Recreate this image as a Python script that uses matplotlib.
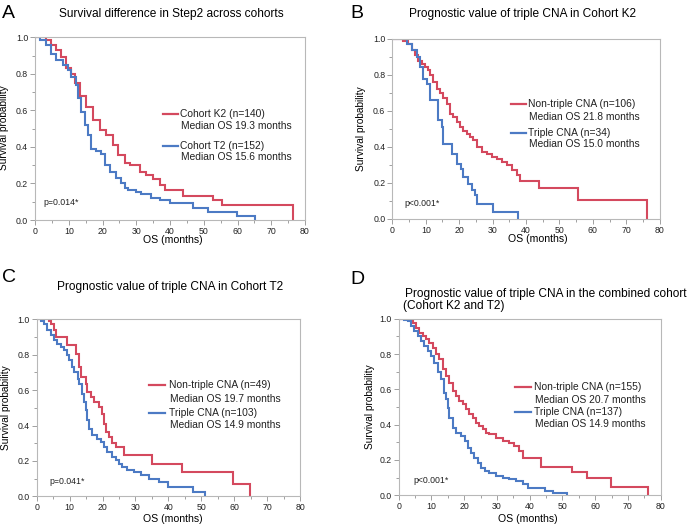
import matplotlib
matplotlib.use('Agg')
import matplotlib.pyplot as plt
from matplotlib.ticker import MultipleLocator, FormatStrFormatter

plt.rcParams['font.family'] = ['Liberation Sans', 'DejaVu Sans']

RED = '#D4495E'
BLUE = '#4C7AC4'

# Kaplan-Meier curves: (time in months, survival after the step)
# panel A
a_k2_t = [0, 3.4, 4.8, 6.3, 7.8, 9.3, 10.8, 11.8, 13.2, 15.2, 17.2, 19.2, 21.1, 23.1, 24.6, 26.6,
          28.0, 31.0, 33.0, 35.0, 36.9, 38.5, 43.9, 52.8, 55.3, 76.5]
a_k2_s = [1.0, 0.985, 0.96, 0.93, 0.89, 0.83, 0.80, 0.75, 0.68, 0.62, 0.55, 0.49, 0.465, 0.41, 0.356, 0.31,
          0.30, 0.265, 0.246, 0.225, 0.19, 0.164, 0.131, 0.109, 0.08, 0.0]
a_t2_t = [0, 1.4, 3.4, 4.8, 6.3, 8.3, 9.8, 10.8, 12.0, 12.7, 13.7, 14.7, 15.7, 16.7, 18.2, 19.7, 20.6,
          22.1, 24.1, 25.6, 26.6, 27.6, 30.0, 31.5, 34.5, 37.0, 40.0, 46.9, 51.4, 59.8, 65.2]
a_t2_s = [1.0, 0.985, 0.96, 0.91, 0.876, 0.85, 0.82, 0.785, 0.74, 0.666, 0.593, 0.52, 0.465, 0.39, 0.38, 0.363, 0.30,
          0.265, 0.228, 0.20, 0.173, 0.165, 0.155, 0.14, 0.118, 0.11, 0.091, 0.064, 0.046, 0.022, 0.0]

# panel B
b_non_t = [0, 3.3, 4.8, 5.8, 6.8, 7.8, 8.8, 9.8, 10.8, 11.3, 12.3, 13.3, 14.3, 15.3, 16.3, 17.3, 18.3,
           19.3, 20.3, 21.2, 22.2, 23.2, 24.2, 25.2, 26.7, 28.2, 29.7, 31.2, 32.7, 34.2, 35.7, 37.2,
           38.2, 43.8, 55.6, 76.2]
b_non_s = [1.0, 0.99, 0.974, 0.937, 0.909, 0.88, 0.863, 0.844, 0.826, 0.80, 0.76, 0.72, 0.70, 0.67, 0.64, 0.585, 0.567,
           0.54, 0.51, 0.49, 0.474, 0.455, 0.437, 0.40, 0.372, 0.363, 0.344, 0.335, 0.317, 0.298, 0.27, 0.243,
           0.21, 0.175, 0.105, 0.0]
b_tri_t = [0, 4.3, 5.8, 7.3, 8.3, 9.3, 10.3, 11.3, 13.8, 14.8, 15.3, 17.8, 19.3, 20.7, 21.2, 22.7,
           23.7, 24.7, 25.2, 30.2, 37.7]
b_tri_s = [1.0, 0.97, 0.937, 0.90, 0.844, 0.78, 0.75, 0.66, 0.548, 0.511, 0.419, 0.363, 0.307, 0.28, 0.233, 0.196,
           0.159, 0.131, 0.085, 0.039, 0.0]

# panel C
c_non_t = [0, 3.7, 4.3, 5.3, 5.8, 9.3, 11.8, 12.9, 13.4, 14.9, 15.4, 16.4, 17.4, 18.9, 19.9, 20.5,
           21.0, 22.0, 23.0, 24.0, 26.5, 35.0, 44.1, 59.5, 64.8]
c_non_s = [1.0, 0.99, 0.975, 0.938, 0.90, 0.853, 0.806, 0.73, 0.674, 0.637, 0.59, 0.56, 0.533, 0.505, 0.467, 0.41,
           0.363, 0.335, 0.30, 0.28, 0.232, 0.185, 0.139, 0.072, 0.0]
c_tri_t = [0, 1.2, 2.2, 3.2, 4.3, 5.3, 6.3, 7.3, 8.3, 9.3, 9.8, 10.8, 11.3, 12.4, 12.9, 13.9, 14.4, 14.9,
           15.4, 15.9, 16.9, 18.4, 19.4, 20.5, 21.5, 23.0, 24.0, 25.0, 26.0, 27.5, 29.6, 31.6, 34.1, 37.2,
           40.0, 47.6, 51.2]
c_tri_s = [1.0, 0.99, 0.975, 0.938, 0.91, 0.881, 0.862, 0.844, 0.825, 0.797, 0.768, 0.731, 0.702, 0.665, 0.637, 0.58,
           0.533, 0.486, 0.429, 0.382, 0.345, 0.326, 0.307, 0.279, 0.25, 0.222, 0.203, 0.185, 0.166, 0.147, 0.137,
           0.119, 0.10, 0.081, 0.051, 0.025, 0.0]

# panel D
d_non_t = [0, 3.3, 4.3, 5.3, 6.3, 7.3, 8.3, 9.4, 10.4, 11.4, 12.4, 13.4, 14.5, 15.5, 16.5, 17.5, 18.5, 19.5,
           20.6, 21.6, 22.6, 23.6, 24.6, 25.6, 26.7, 27.7, 29.7, 31.8, 33.8, 35.3, 36.8, 38.1, 43.3, 52.8,
           57.5, 64.7, 76.2]
d_non_s = [1.0, 0.99, 0.977, 0.95, 0.92, 0.90, 0.883, 0.864, 0.836, 0.80, 0.77, 0.713, 0.675, 0.638, 0.59, 0.562,
           0.534, 0.515, 0.487, 0.458, 0.44, 0.411, 0.392, 0.374, 0.355, 0.345, 0.326, 0.308, 0.298, 0.279, 0.251,
           0.21, 0.162, 0.134, 0.10, 0.045, 0.0]
d_tri_t = [0, 1.7, 2.7, 3.8, 4.8, 5.8, 6.8, 7.8, 8.9, 9.9, 10.9, 11.9, 12.9, 13.9, 14.5, 15.0, 15.5, 16.5,
           17.5, 19.0, 20.1, 21.1, 22.1, 23.1, 24.1, 25.1, 26.2, 27.7, 29.7, 31.8, 33.8, 35.8, 37.9, 39.5,
           44.7, 47.2, 51.3]
d_tri_s = [1.0, 0.995, 0.987, 0.96, 0.93, 0.90, 0.874, 0.845, 0.817, 0.789, 0.75, 0.70, 0.657, 0.58, 0.543, 0.496,
           0.44, 0.383, 0.355, 0.336, 0.308, 0.27, 0.242, 0.213, 0.185, 0.157, 0.138, 0.128, 0.109, 0.10, 0.09,
           0.081, 0.062, 0.043, 0.022, 0.012, 0.0]

fig = plt.figure(figsize=(6.96, 5.25), dpi=100)
W, H = 696, 525


def px_axes(x0, x1, y0, y1):
    # axes box given in pixel coordinates of the figure (top-left origin)
    return fig.add_axes([x0 / W, 1 - y1 / H, (x1 - x0) / W, (y1 - y0) / H])


def ftext(x, y, s, **kw):
    fig.text(x / W, 1 - y / H, s, **kw)


def panel(ax, curves, keys, key_x, key_y, ptext):
    for (t, s), color in zip(curves, [RED, BLUE]):
        ax.step(t, s, where='post', color=color, lw=1.5, solid_joinstyle='miter')
    ax.set_xlim(0, 80)
    ax.set_ylim(0, 1.0)
    ax.xaxis.set_major_locator(MultipleLocator(10))
    ax.xaxis.set_minor_locator(MultipleLocator(5))
    ax.yaxis.set_major_locator(MultipleLocator(0.2))
    ax.yaxis.set_minor_locator(MultipleLocator(0.1))
    ax.yaxis.set_major_formatter(FormatStrFormatter('%.1f'))
    ax.tick_params(which='both', direction='out', color='#a0a0a0', labelsize=6.3,
                   labelcolor='#222222', width=0.7, pad=1.5)
    ax.tick_params(which='major', length=3.5)
    ax.tick_params(which='minor', length=2)
    for sp in ax.spines.values():
        sp.set_color('#b8b8b8')
        sp.set_linewidth(0.8)
    # legend keys
    for (l1, l2), color, (ya, yb) in zip(keys, [RED, BLUE], key_y):
        ax.plot([key_x[0], key_x[1]], [ya, ya], color=color, lw=1.6,
                transform=ax.transAxes, clip_on=False)
        ax.text(key_x[2], ya, l1, transform=ax.transAxes, va='center', fontsize=7.4, color='#222222')
        ax.text(key_x[2] + 0.004, yb, l2, transform=ax.transAxes, va='center', fontsize=7.4, color='#222222')
    ax.text(ptext[0], ptext[1], ptext[2], transform=ax.transAxes, va='center', fontsize=6.3, color='#222222')


TS = 8.6  # title size

# A
axA = px_axes(35, 305, 37.3, 220)
panel(axA, [(a_k2_t, a_k2_s), (a_t2_t, a_t2_s)],
      [('Cohort K2 (n=140)', 'Median OS 19.3 months'), ('Cohort T2 (n=152)', 'Median OS 15.6 months')],
      (0.474, 0.530, 0.537), [(0.58, 0.515), (0.405, 0.345)], (0.031, 0.097, 'p=0.014*'))
ftext(2, 13, 'A', fontsize=14, va='center')
ftext(171, 14, 'Survival difference in Step2 across cohorts', fontsize=TS, ha='center', va='center')
ftext(173, 240, 'OS (months)', fontsize=7.6, ha='center', va='center')
ftext(4, 128, 'Survival probability', fontsize=7.3, ha='center', va='center', rotation=90)

# B
axB = px_axes(392.3, 659.7, 39, 219)
panel(axB, [(b_non_t, b_non_s), (b_tri_t, b_tri_s)],
      [('Non-triple CNA (n=106)', 'Median OS 21.8 months'), ('Triple CNA (n=34)', 'Median OS 15.0 months')],
      (0.443, 0.501, 0.507), [(0.637, 0.565), (0.48, 0.415)], (0.046, 0.087, 'p<0.001*'))
ftext(350, 13, 'B', fontsize=14, va='center')
ftext(523, 14, 'Prognostic value of triple CNA in Cohort K2', fontsize=TS, ha='center', va='center')
ftext(538, 239, 'OS (months)', fontsize=7.6, ha='center', va='center')
ftext(361, 129, 'Survival probability', fontsize=7.3, ha='center', va='center', rotation=90)

# C
axC = px_axes(36.7, 300, 319.3, 496.3)
panel(axC, [(c_non_t, c_non_s), (c_tri_t, c_tri_s)],
      [('Non-triple CNA (n=49)', 'Median OS 19.7 months'), ('Triple CNA (n=103)', 'Median OS 14.9 months')],
      (0.428, 0.487, 0.504), [(0.627, 0.551), (0.472, 0.401)], (0.048, 0.081, 'p=0.041*'))
ftext(2, 277, 'C', fontsize=14, va='center')
ftext(170, 287, 'Prognostic value of triple CNA in Cohort T2', fontsize=TS, ha='center', va='center')
ftext(173, 519, 'OS (months)', fontsize=7.6, ha='center', va='center')
ftext(6, 408, 'Survival probability', fontsize=7.3, ha='center', va='center', rotation=90)

# D
axD = px_axes(398.7, 660.7, 318.7, 495.3)
panel(axD, [(d_non_t, d_non_s), (d_tri_t, d_tri_s)],
      [('Non-triple CNA (n=155)', 'Median OS 20.7 months'), ('Triple CNA (n=137)', 'Median OS 14.9 months')],
      (0.445, 0.506, 0.515), [(0.613, 0.542), (0.472, 0.404)], (0.055, 0.085, 'p<0.001*'))
ftext(350, 279, 'D', fontsize=14, va='center')
ftext(405, 296.5, 'Prognostic value of triple CNA in the combined cohort', fontsize=TS, ha='left', va='baseline')
ftext(403, 308.5, '(Cohort K2 and T2)', fontsize=TS, ha='left', va='baseline')
ftext(528, 519, 'OS (months)', fontsize=7.6, ha='center', va='center')
ftext(370, 407, 'Survival probability', fontsize=7.3, ha='center', va='center', rotation=90)

fig.savefig('out.png', dpi=100)
